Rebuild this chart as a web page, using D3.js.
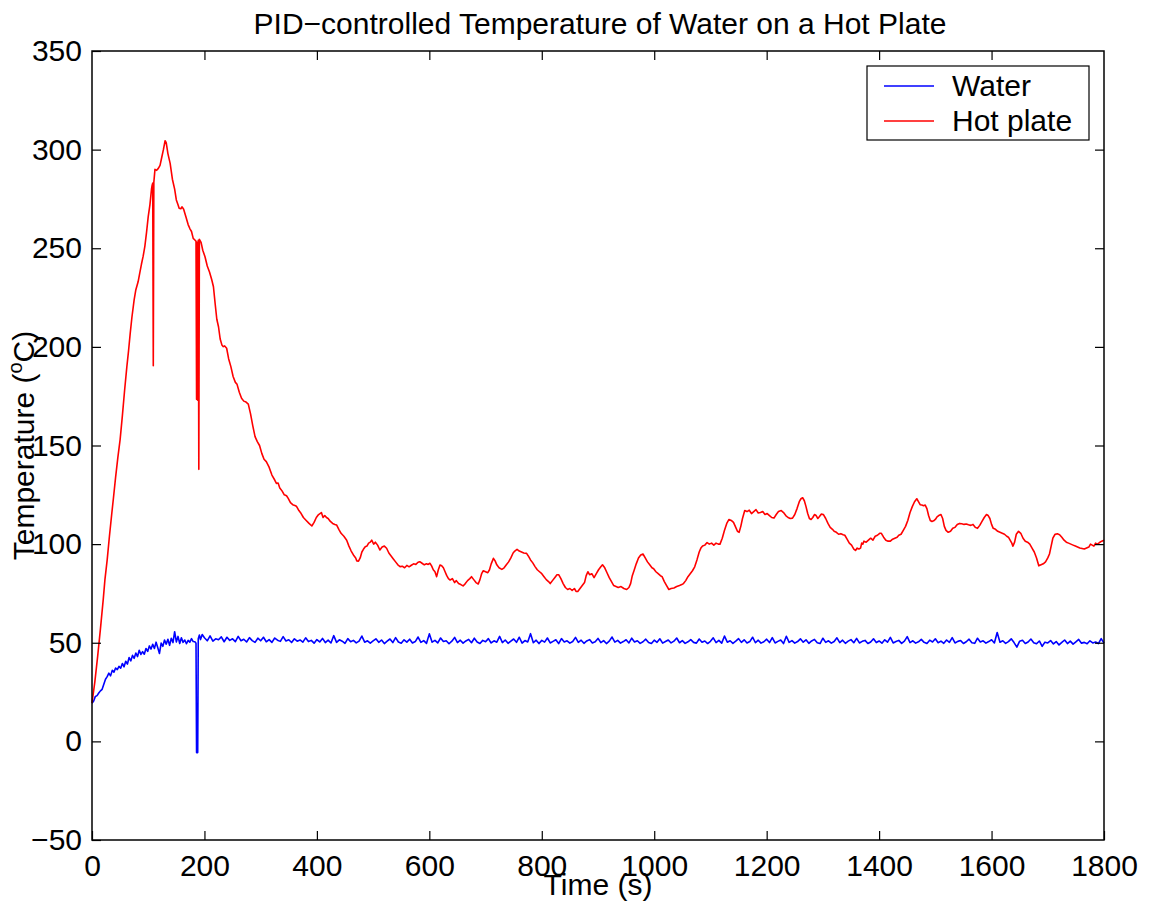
<!DOCTYPE html>
<html>
<head>
<meta charset="utf-8">
<script src="https://cdn.jsdelivr.net/npm/d3@7"></script>
<style>
  body { margin: 0; background: #fff; }
  text { font-family: "Liberation Sans", Arial, Helvetica, sans-serif; fill: #000; }
</style>
</head>
<body>
<script>
// data
const title = 'PID\u2212controlled Temperature of Water on a Hot Plate';
const xLabel = 'Time (s)';
const seriesNames = ['Water', 'Hot plate'];
const seriesColors = ['#0000ff', '#ff0000'];
const xTicks = [0, 200, 400, 600, 800, 1000, 1200, 1400, 1600, 1800];
const yTicks = [-50, 0, 50, 100, 150, 200, 250, 300, 350];

// water, first 200 s as [time, temp]
const waterEarly = [
  [0,19.3],[3,20.5],[6,22.8],[9,23.2],[12,24.5],[15,25.6],[18,26.4],[21,29],[24,31.5],[27,32.8],
  [30,34.6],[33,33.2],[36,36],[39,35.1],[42,37.2],[45,36.4],[48,38],[51,37.1],[54,39.5],[57,37.8],
  [60,40.6],[63,39.2],[66,42.5],[69,40.8],[72,43.6],[75,42.1],[78,44.8],[81,43],[84,46.2],[87,44.1],
  [90,45.5],[93,44.2],[96,47.1],[99,45.6],[102,48.4],[105,46.8],[108,49.2],[111,47.1],[114,50.3],[117,47.5],
  [120,44.6],[123,49.8],[126,48.2],[129,51.4],[132,49.3],[135,51.8],[138,48.7],[141,52.3],[144,50.1],[147,55.6],
  [150,50.4],[153,53.2],[156,49.6],[159,52.5],[162,50.2],[165,51.4],[168,49.5],[171,51.2],[174,50.3],[177,52.1],
  [180,50.6],[183,50.5],[185,49.8],[186,-5.7],[188,-5.7],[189,52],[191,53.9],[193,51.6],[196,54.2]
];
// water from 200 s to 1800 s, one value every 5 s
const waterStart = 200, waterStep = 5;
const waterSteady = [
  52.5,51,53.5,50.8,52,51.5,53,50.5,52.8,51.2,52,50.6,53.2,51,51.8,50.4,52.6,51.1,50.2,52.3,
  51,52.8,50.5,51.6,50.2,52.4,51.3,50.7,53.1,50.9,51.5,50.1,52,50.8,51.4,50.3,52.5,50.6,51.2,49.8,
  51.6,50.4,52.2,50.1,51.3,49.9,53.6,50.2,51.5,50.8,49.7,52.1,50.5,51.2,49.9,50.8,53.4,50.3,51,49.8,
  50.9,52,50.2,51.4,49.6,50.8,51.9,50.1,52.6,50.4,49.8,51.5,50.3,51.8,49.9,50.6,52.9,50.2,51.1,49.7,
  54.5,50.3,51.2,49.9,52.4,50.6,51,49.5,50.8,52.7,50.1,51.3,49.8,50.9,51.7,50,52.3,50.4,49.6,51.2,
  50.5,52.1,49.9,51,50.3,53.2,50.1,51.4,49.7,50.8,51.9,50.2,52.8,49.8,51.1,50.4,54.6,50,51.3,49.6,
  51.2,50.3,52.4,49.9,50.7,51.5,49.6,52.1,50.4,51,49.8,50.6,52.7,50.2,51.3,49.7,50.9,51.6,49.9,50.5,
  52.2,50.1,51.1,49.6,50.8,52.9,50.3,51.2,49.8,50.6,51.5,49.9,52.3,50.4,51,49.7,50.5,51.8,50.1,49.6,
  51.3,50.2,52,49.8,50.6,51.4,49.9,50.8,52.4,50,51.1,49.7,50.5,51.6,50.2,49.8,51.9,50.3,50.9,49.6,
  50.7,52.5,50.1,51.2,49.8,53.4,50.3,51,49.7,50.8,52.1,50.2,51.5,49.9,50.6,52.8,50,51.3,49.8,50.5,
  51.8,50.1,52.6,49.9,50.7,51.4,49.6,53.3,50.2,51.1,49.8,50.6,52,50.3,51.5,49.7,50.9,51.7,50,49.6,
  52.3,50.2,51,49.8,50.6,52.5,50.1,51.3,49.7,50.8,51.6,50,52.2,49.9,50.7,51.2,49.6,50.4,52,50.1,
  50.9,49.8,51.5,50.3,52.7,49.9,50.6,51.2,49.7,50.8,53.1,50.1,51,49.8,50.5,51.7,50.2,49.6,51.3,50.4,
  52,50,50.8,49.7,51.4,50.2,52.6,49.9,50.7,51.1,49.6,50.5,51.8,50,49.7,52.3,50.4,51,49.8,50.6,
  51.5,49.9,55.2,50.3,51,49.7,50.6,52,50.1,47.8,50.8,51.3,49.6,50.4,51.9,50,49.5,50.9,48.2,50.3,
  49.9,51.1,49.4,50.6,48.9,50.2,51.4,49.6,50.8,49.3,50.5,51.7,49.8,50.2,49.5,51,49.9,50.4,49.6,52.1,
  49.8
];

// hot plate as [time, temp]
const hotPlate = [
  [0,19.5],[5,30],[10,43],[15,57],[20,72],[23,82],[27,92],[31,104],[35,115],[38,123],
  [42,134],[46,144],[50,153],[54,165],[58,178],[62,190],[65,198],[68,207],[71,215],[75,224],
  [78,229],[82,233],[85,237.5],[88,242],[91,246],[94,251],[97,258],[100,266],[103,272],[106,280.4],
  [107,282],[108,283],[109,190.4],[110,283.5],[112,290],[115,289.5],[118,290.5],[121,292],[124,296],[127,300],
  [130,304.5],[132,303.5],[135,298],[139,293],[143,285],[147,280],[150,274.5],[153,272],[155,270.3],[158,270],
  [160,271],[163,269.8],[167,266],[171,262],[174,260],[177,258.5],[180,255],[183,254.2],[185,253.5],[186,173.4],
  [187,253],[188,173],[189,254],[190,137.9],[191,254.5],[194,253],[197,249],[201,245.7],[205,241],[209,238],
  [213,234],[216,230.5],[219,222],[222,214],[225,210.2],[228,204],[231,201],[233.6,200.1],[236,200.5],[239.5,199.3],
  [243,194],[247,190],[251,185],[255,182],[258,181],[262,177],[266,174],[270,172.5],[274,172],[278,171],
  [282,166],[286,160],[290,154.5],[294,152],[298,150],[302,146],[306,143],[310,141.8],[315,139],[320,135],
  [325,132.5],[328,130.8],[331,131],[334,128.5],[338,127],[342,125],[346,124.5],[349,123.2],[353,121],[357,120],
  [362,119.5],[364,119],[368,117],[372,115.5],[376,113.5],[381,112],[386,110.5],[391,109.2],[395,111],[399,113.5],
  [403,115],[408,116],[411,113.5],[414,114.5],[417,113.5],[420,113],[424,111.5],[428,110.5],[432,110],[435,109.7],
  [439,107.5],[443,105.5],[448,104],[453,102],[457,99],[461,96.5],[465,94.5],[469,93],[471,91.5],[474,91.4],
  [477,93],[480,96],[483,97.5],[486,98.7],[489,99],[492,100.5],[495,101],[497.5,102],[501,100],[504,101],
  [508,99.5],[512,97],[516,98.5],[520,99],[524,97.9],[528,95.5],[532,94],[536,92.5],[540,91],[544,89.5],
  [548,88.6],[552,88.8],[556,88],[560,89.2],[564,88.5],[568,89.3],[572,90],[576,89.7],[580,90.8],[583,91.1],
  [587,90.3],[591,89.5],[595,90],[598,89.7],[601,90.3],[604,89],[607,87],[610,86],[613,83.5],[616,87],
  [619,89.4],[622,89],[625,88],[628,86],[631,84],[634,82.5],[637,81.8],[641,82.5],[645,80.5],[648,81.5],
  [652,80],[656,79.5],[660,78.8],[664,80],[668,81.5],[672,82.5],[675,83.5],[679,82],[683,80.5],[687,79.8],
  [690,82],[693,85],[696,86.5],[700,86],[704,85.5],[707,87],[710,90],[714,92.8],[717,91.5],[720,89.5],
  [724,88],[729,87.2],[733,88],[737,89.5],[741,91],[745,93],[749,95.5],[752,96.5],[756,97.4],[760,96.5],
  [764,96],[768,95.5],[773,95.3],[776,94],[780,92],[784,90.5],[788,88.6],[792,87],[796,86],[800,85],
  [804,83.5],[808,82],[812,81],[815,80],[819,81.5],[823,83],[827,84.5],[830,84.5],[834,82.5],[838,80],
  [842,78],[846,77],[850,77.5],[854,76.5],[858,77.5],[861,76],[864,76],[868,77.5],[872,79],[876,80.5],
  [879,84],[882,86],[885,84.5],[889,85],[893,83],[897,85],[901,87],[905,88.5],[908,89.5],[912,88],
  [916,85.5],[920,83],[924,81],[928,79],[932,78.5],[936,78],[941,78.5],[946,77.5],[951,77],[955,78],
  [958,80],[961,84],[964,86.5],[968,90],[972,93],[976,94.5],[980,95],[984,93],[988,91],[992,89.5],
  [996,88],[999,87.5],[1003,86],[1007,85],[1011,84],[1014,83.5],[1018,81],[1022,79],[1026,77],[1030,77.5],
  [1035,77.8],[1040,78.5],[1045,79],[1049,79.5],[1052,80],[1056,81.5],[1060,83.5],[1064,85],[1068,86.5],[1072,88.5],
  [1076,92],[1080,96],[1083,98],[1086,99],[1090,99.5],[1094,100.8],[1098,100],[1102,100.5],[1106,99.5],[1110,100.5],
  [1114,100],[1117,100],[1121,103],[1125,107],[1129,110.5],[1133,112.5],[1137,112],[1141,111],[1145,108.5],[1148,106.5],
  [1151,106],[1154,109],[1157,113],[1161,117],[1165,116.5],[1169,117.2],[1173,115.5],[1177,116.5],[1181,117.5],[1185,115.8],
  [1189,116],[1193,116.5],[1197,115],[1201,115.5],[1205,114.5],[1209,113.5],[1213,113.2],[1217,115],[1221,116.5],[1226,117],
  [1230,116],[1234,114.5],[1238,113.5],[1242,113],[1246,113.2],[1250,115],[1254,118],[1258,121.5],[1261,123],[1264,123.5],
  [1267,122],[1270,119],[1273,115.5],[1276,113],[1279,112.5],[1282,113.5],[1285,115],[1288,114.5],[1291,113],[1294,114],
  [1297,115.2],[1301,115],[1305,113],[1309,110.5],[1313,108.5],[1317,107.5],[1320,106.5],[1324,106],[1328,105],[1332,105.3],
  [1336,104.8],[1339,104.5],[1343,102.5],[1347,100.5],[1351,99.5],[1355,97.5],[1358,96.8],[1361,98],[1364,97.5],[1367,98],
  [1369,100.5],[1371,100],[1373,101.5],[1377,101],[1381,102],[1385,103],[1389,102],[1393,104],[1397,104.5],[1401,105.5],
  [1404,105.5],[1408,103.5],[1412,102],[1416,101.5],[1420,101.5],[1424,102.5],[1428,103],[1432,103.5],[1435,104.5],[1439,105],
  [1443,107],[1447,109],[1451,112],[1455,116],[1459,119],[1463,121.5],[1467,123],[1470,121.5],[1473,120],[1476,119.8],
  [1479,119.5],[1482,119.8],[1485,118],[1488,114.5],[1491,112],[1494,111.5],[1497,111.8],[1500,112.5],[1503,113.8],[1506,114.5],
  [1510,115],[1513,113],[1516,109],[1519,107],[1523,106],[1527,106.5],[1531,108],[1535,108.5],[1539,110],[1543,110.5],
  [1547,110.3],[1551,110],[1555,110.2],[1559,109.8],[1563,109.5],[1567,110],[1571,108.5],[1575,108],[1579,109.5],[1583,111.5],
  [1587,113.5],[1591,115],[1594,114.5],[1597,113],[1600,110],[1603,108],[1607,107.5],[1611,106.5],[1615,106],[1619,105.5],
  [1623,105],[1627,104],[1630,103.5],[1633,102],[1636,100.5],[1638,99],[1641,101],[1644,105],[1648,106.5],[1652,105.5],
  [1656,103],[1660,101.5],[1664,101],[1668,100],[1672,98],[1676,96],[1680,93],[1684,89],[1688,89.5],[1692,90],
  [1696,91],[1700,93],[1703,95],[1706,99],[1709,103],[1713,105],[1717,105.2],[1721,104.8],[1725,103.5],[1729,102],
  [1733,101],[1737,100.5],[1741,100],[1745,99.5],[1749,99],[1753,98.5],[1757,98],[1761,97.8],[1765,97.5],[1769,98],
  [1773,98.5],[1776,100],[1779,99.5],[1782,99],[1785,100.5],[1788,100],[1792,100.8],[1796,101.5],[1800,102]
];

// build water series as [time, temp]
const water = waterEarly.concat(waterSteady.map((v, i) => [waterStart + i * waterStep, v]));

const width = 1150, height = 909;
const margin = { top: 51, right: 46, bottom: 69, left: 92 };
const fontSize = 30;

const svg = d3.select('body').append('svg')
  .attr('width', width)
  .attr('height', height);

const x = d3.scaleLinear().domain([0, 1800]).range([margin.left, width - margin.right]);
const y = d3.scaleLinear().domain([-50, 350]).range([height - margin.bottom, margin.top]);

// lines
const line = d3.line().x(d => x(d[0])).y(d => y(d[1]));
const plot = svg.append('g');
plot.append('path')
  .datum(water)
  .attr('fill', 'none')
  .attr('stroke', seriesColors[0])
  .attr('stroke-width', 1.6)
  .attr('stroke-linejoin', 'round')
  .attr('d', line);
plot.append('path')
  .datum(hotPlate)
  .attr('fill', 'none')
  .attr('stroke', seriesColors[1])
  .attr('stroke-width', 1.6)
  .attr('stroke-linejoin', 'round')
  .attr('d', line);

// axes, MATLAB style: inward ticks on all four sides
const tickLen = 9;
const fmt = d3.format('');
const styleAxis = g => {
  g.select('.domain').remove();
  g.selectAll('.tick line').attr('stroke', '#000').attr('stroke-width', 1.2);
  g.selectAll('text').attr('font-size', fontSize).attr('fill', '#000')
    .style('font-family', '"Liberation Sans", Arial, sans-serif');
};

svg.append('g')
  .attr('transform', `translate(0,${y(-50)})`)
  .call(d3.axisBottom(x).tickValues(xTicks).tickFormat(fmt).tickSizeInner(-tickLen).tickSizeOuter(0).tickPadding(15))
  .call(styleAxis);
svg.append('g')
  .attr('transform', `translate(0,${y(350)})`)
  .call(d3.axisTop(x).tickValues(xTicks.slice(1, -1)).tickFormat('').tickSizeInner(-tickLen).tickSizeOuter(0))
  .call(styleAxis);
svg.append('g')
  .attr('transform', `translate(${x(0)},0)`)
  .call(d3.axisLeft(y).tickValues(yTicks).tickFormat(fmt).tickSizeInner(-tickLen).tickSizeOuter(0).tickPadding(10))
  .call(styleAxis);
svg.append('g')
  .attr('transform', `translate(${x(1800)},0)`)
  .call(d3.axisRight(y).tickValues(yTicks.slice(1, -1)).tickFormat('').tickSizeInner(-tickLen).tickSizeOuter(0))
  .call(styleAxis);

// box
svg.append('rect')
  .attr('x', x(0)).attr('y', y(350))
  .attr('width', x(1800) - x(0)).attr('height', y(-50) - y(350))
  .attr('fill', 'none').attr('stroke', '#000').attr('stroke-width', 1.5);

// title and axis labels
svg.append('text')
  .attr('x', 600).attr('y', 34)
  .attr('text-anchor', 'middle').attr('font-size', fontSize)
  .text(title);
svg.append('text')
  .attr('x', 598).attr('y', 895)
  .attr('text-anchor', 'middle').attr('font-size', fontSize)
  .text(xLabel);
const yl = svg.append('text')
  .attr('transform', `translate(34,${(y(-50) + y(350)) / 2}) rotate(-90)`)
  .attr('text-anchor', 'middle').attr('font-size', fontSize);
yl.append('tspan').text('Temperature (');
yl.append('tspan').attr('font-size', 20).attr('dy', -12).text('o');
yl.append('tspan').attr('dy', 12).text('C)');

// legend
const legend = svg.append('g');
legend.append('rect')
  .attr('x', 867).attr('y', 66).attr('width', 222).attr('height', 74)
  .attr('fill', '#fff').attr('stroke', '#000').attr('stroke-width', 1.2);
seriesNames.forEach((name, i) => {
  const ly = 86 + i * 35;
  legend.append('line')
    .attr('x1', 884).attr('x2', 934).attr('y1', ly).attr('y2', ly)
    .attr('stroke', seriesColors[i]).attr('stroke-width', 1.6);
  legend.append('text')
    .attr('x', 952).attr('y', ly + 10)
    .attr('font-size', fontSize)
    .text(name);
});
</script>
</body>
</html>
